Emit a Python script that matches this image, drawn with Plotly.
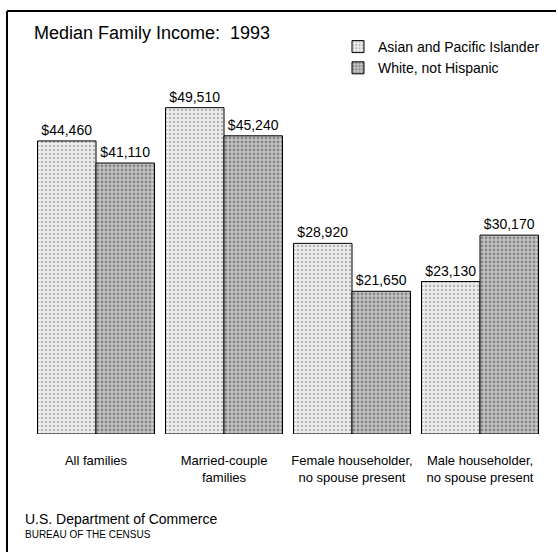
import plotly.graph_objects as go

# data
categories = ['All families', 'Married-couple<br>families',
              'Female householder,<br>no spouse present',
              'Male householder,<br>no spouse present']
asian = [44460, 49510, 28920, 23130]
white = [41110, 45240, 21650, 30170]
series_names = ['Asian and Pacific Islander', 'White, not Hispanic']

W, H = 558, 552
L, R, T, B = 32, 14, 60, 118
PW, PH = W - L - R, H - T - B
FONT = 'Arial, Liberation Sans, Helvetica, sans-serif'


def px(x):
    return (x - L) / PW


def py(y):
    return (H - B - y) / PH


fig = go.Figure()
fig.add_trace(go.Bar(
    x=categories, y=asian, name=series_names[0],
    texttemplate='$%{y:,}', textposition='outside', cliponaxis=False,
    textfont=dict(size=14, color='black'),
    marker=dict(line=dict(color='black', width=1),
                pattern=dict(shape='.', fgcolor='#7a7a7a', bgcolor='#ededed',
                             size=4, solidity=0.3)),
))
fig.add_trace(go.Bar(
    x=categories, y=white, name=series_names[1],
    texttemplate='$%{y:,}', textposition='outside', cliponaxis=False,
    textfont=dict(size=14, color='black'),
    marker=dict(line=dict(color='black', width=1),
                pattern=dict(shape='.', fgcolor='#4a4a4a', bgcolor='#c4c4c4',
                             size=4, solidity=0.4)),
))

fig.update_layout(
    width=W, height=H,
    margin=dict(l=L, r=R, t=T, b=B, pad=0),
    paper_bgcolor='white', plot_bgcolor='white',
    font=dict(family=FONT, color='black'),
    barmode='group', bargap=0.086, bargroupgap=0,
    xaxis=dict(showline=False, showgrid=False, ticks='outside', ticklen=14,
               tickcolor='rgba(0,0,0,0)', tickfont=dict(size=13)),
    yaxis=dict(visible=False, range=[0, 56740]),
    legend=dict(x=px(338), y=py(31), xanchor='left', yanchor='top',
                font=dict(size=14), bgcolor='rgba(0,0,0,0)',
                tracegroupgap=0),
    showlegend=True,
)

fig.add_annotation(text='Median Family Income:  1993', x=px(32), y=py(33),
                   xref='paper', yref='paper', xanchor='left', yanchor='middle',
                   showarrow=False, font=dict(size=18))
fig.add_annotation(text='U.S. Department of Commerce', x=px(23), y=py(519),
                   xref='paper', yref='paper', xanchor='left', yanchor='middle',
                   showarrow=False, font=dict(size=14))
fig.add_annotation(text='BUREAU OF THE CENSUS', x=px(23), y=py(534),
                   xref='paper', yref='paper', xanchor='left', yanchor='middle',
                   showarrow=False, font=dict(size=10))

# frame: left and top edges only
fig.add_shape(type='line', xref='paper', yref='paper', x0=px(7), x1=px(7),
              y0=py(11), y1=py(552), line=dict(color='black', width=2))
fig.add_shape(type='line', xref='paper', yref='paper', x0=px(7), x1=px(556),
              y0=py(11), y1=py(11), line=dict(color='black', width=2))

# the page's default 8px body margin would push the figure off its grid
fig.write_html('out.html', config={'displayModeBar': False},
               post_script="document.body.style.margin='0';"
                           "document.body.style.overflow='hidden';")
